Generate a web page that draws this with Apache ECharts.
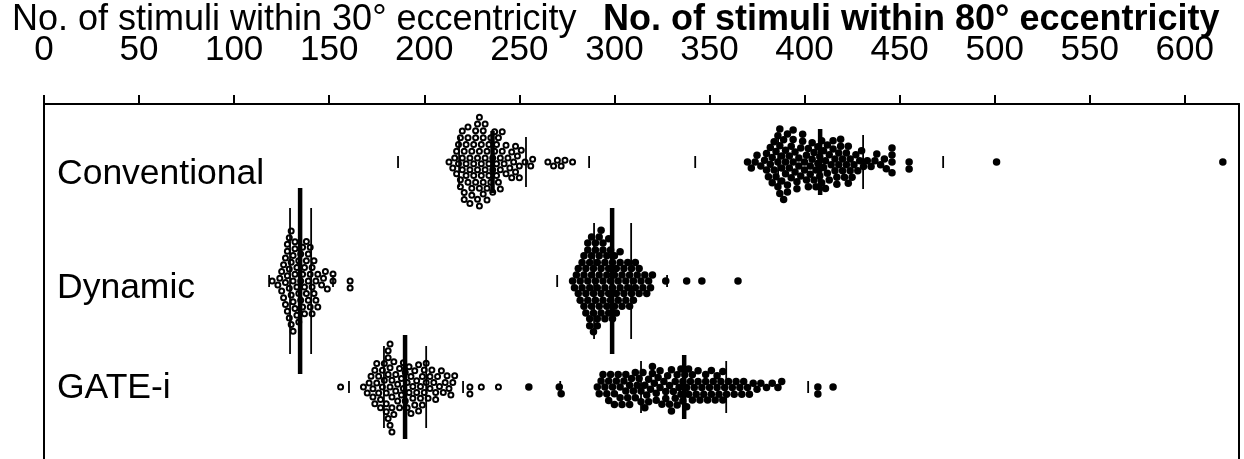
<!DOCTYPE html>
<html>
<head>
<meta charset="utf-8">
<script src="https://cdn.jsdelivr.net/npm/echarts@6/dist/echarts.min.js"></script>
<style>
  html, body { margin: 0; padding: 0; background: #fff; }
  #chart { width: 1244px; height: 459px; }
</style>
</head>
<body>
<div id="chart"></div>
<script>
// tick labels on the top axis
const xTicks = [0, 50, 100, 150, 200, 250, 300, 350, 400, 450, 500, 550, 600];
const rows = ['Conventional', 'Dynamic', 'GATE-i'];

// each group: distinct values + how many subjects sit on each value
const conv30Values = [213, 215, 216, 217, 218, 219, 220, 221, 222, 223, 224, 225, 226, 227, 228, 229, 230, 231, 232, 233, 234, 235, 236, 237, 238, 239, 240, 241, 242, 243, 244, 245, 246, 247, 248, 249, 250, 251, 253, 256, 257, 265, 268, 270, 272, 274, 278];
const conv30Counts = [1, 1, 1, 2, 2, 3, 3, 3, 3, 3, 3, 3, 3, 3, 4, 4, 3, 4, 3, 3, 3, 2, 3, 2, 3, 2, 3, 2, 1, 2, 1, 1, 2, 1, 2, 1, 2, 1, 1, 1, 1, 1, 1, 1, 1, 1, 1];

const conv80Values = [370, 372, 374, 375, 377, 379, 380, 381, 382, 383, 384, 385, 386, 387, 388, 389, 390, 391, 392, 393, 394, 395, 396, 397, 398, 399, 400, 401, 402, 403, 404, 405, 406, 407, 408, 409, 410, 411, 412, 413, 414, 415, 416, 417, 418, 419, 420, 421, 422, 423, 424, 425, 426, 427, 428, 429, 430, 431, 433, 435, 437, 438, 440, 442, 443, 446, 455, 501, 620];
const conv80Counts = [1, 1, 1, 1, 1, 1, 2, 1, 2, 2, 2, 2, 3, 3, 3, 2, 3, 3, 2, 2, 3, 2, 2, 2, 2, 2, 2, 2, 2, 2, 2, 2, 2, 2, 2, 2, 2, 2, 2, 2, 1, 2, 2, 2, 2, 2, 2, 1, 2, 2, 2, 1, 1, 1, 1, 1, 1, 1, 1, 1, 1, 1, 1, 1, 1, 4, 2, 1, 1];

const dyn30Values = [120, 123, 124, 125, 126, 127, 128, 129, 130, 131, 132, 133, 134, 135, 136, 137, 138, 139, 140, 141, 142, 143, 144, 146, 147, 148, 149, 152, 161];
const dyn30Counts = [1, 1, 1, 2, 2, 3, 4, 4, 4, 4, 4, 3, 3, 3, 3, 3, 3, 3, 3, 3, 2, 2, 2, 1, 1, 1, 1, 2, 2];

const dyn80Values = [278, 279, 280, 281, 282, 283, 284, 285, 286, 287, 288, 289, 290, 291, 292, 293, 294, 295, 296, 297, 298, 299, 300, 301, 302, 303, 304, 305, 306, 307, 308, 309, 310, 311, 312, 313, 314, 315, 316, 317, 318, 319, 320, 327, 338, 346, 365];
const dyn80Counts = [1, 1, 1, 2, 2, 2, 3, 3, 4, 4, 4, 4, 4, 4, 4, 4, 4, 3, 3, 4, 3, 3, 3, 3, 2, 3, 2, 2, 2, 2, 2, 2, 2, 2, 1, 2, 1, 1, 1, 1, 1, 1, 1, 1, 1, 1, 1];

const gate30Values = [156, 168, 170, 171, 172, 173, 174, 175, 176, 177, 178, 179, 180, 181, 182, 183, 184, 185, 186, 187, 188, 189, 190, 191, 192, 193, 194, 195, 196, 197, 198, 199, 200, 201, 202, 203, 204, 205, 206, 207, 208, 209, 210, 211, 212, 213, 214, 215, 216, 224, 230, 239];
const gate30Counts = [1, 1, 1, 1, 1, 2, 2, 2, 2, 2, 2, 2, 3, 4, 4, 4, 2, 2, 2, 2, 2, 2, 2, 2, 2, 2, 2, 2, 2, 2, 2, 2, 2, 2, 1, 2, 1, 1, 2, 1, 1, 1, 1, 1, 1, 1, 1, 1, 1, 2, 1, 1];

const gate80Values = [255, 271, 272, 291, 292, 293, 294, 295, 296, 297, 298, 299, 300, 301, 302, 303, 304, 305, 306, 307, 308, 309, 310, 311, 312, 313, 314, 315, 316, 317, 318, 319, 320, 321, 322, 323, 324, 325, 326, 327, 328, 329, 330, 331, 332, 333, 334, 335, 336, 337, 338, 339, 340, 341, 342, 343, 344, 345, 346, 347, 348, 349, 350, 351, 352, 353, 354, 355, 356, 357, 358, 359, 360, 362, 363, 364, 366, 367, 368, 370, 371, 373, 375, 377, 380, 383, 386, 388, 407, 415];
const gate80Counts = [1, 1, 1, 1, 1, 1, 1, 1, 1, 2, 1, 1, 2, 1, 1, 2, 1, 1, 2, 1, 2, 1, 1, 2, 1, 1, 2, 1, 2, 1, 2, 1, 2, 1, 2, 1, 2, 1, 1, 2, 1, 2, 2, 1, 2, 2, 1, 2, 2, 1, 2, 2, 1, 2, 1, 1, 2, 1, 1, 1, 2, 1, 1, 2, 1, 1, 2, 1, 1, 2, 1, 1, 1, 1, 1, 1, 1, 1, 1, 1, 1, 1, 1, 1, 1, 1, 1, 1, 2, 1];

// summary lines per group (order: conv30, conv80, dyn30, dyn80, gate30, gate80)
const groupRow   = [0, 0, 1, 1, 2, 2];
const meanValues = [235.9, 408.2, 134.7, 298.8, 189.9, 336.7];
const sdLow      = [218.3, 386.1, 129.4, 289.3, 178.8, 314.0];
const sdHigh     = [253.5, 430.8, 140.5, 308.8, 201.0, 358.8];
const rangeLow   = [186.2, 342.5, 118.4, 269.9, 160.4, 271.5];
const rangeHigh  = [286.7, 472.9, 152.0, 327.7, 220.4, 401.9];

// ---- layout / style ----
const gridLeft = 44, gridTop = 104, gridW = 1195, gridH = 355;
const xMax = 628.5;
const rowCenter = [58, 177, 283];          // px below the top axis
const meanHalf = [31, 33, 93, 73, 52, 32];  // half length of mean bars
const sdHalf   = [25, 27, 73, 58, 41, 26];
const rangeHalf = 6;
const dotD = 7;
const FONT = 'Liberation Sans, Arial, sans-serif';

function swarm(values, counts, row) {
  const ppu = gridW / xMax;
  const pts = [];
  values.forEach((v, i) => { for (let k = 0; k < counts[i]; k++) pts.push(v); });
  pts.sort((a, b) => a - b);
  const placed = [];
  const out = [];
  pts.forEach(v => {
    const x = v * ppu;
    const near = placed.filter(p => Math.abs(p.x - x) < dotD);
    const cands = [0];
    near.forEach(p => {
      const dy = Math.sqrt(dotD * dotD - (p.x - x) * (p.x - x));
      cands.push(p.y + dy, p.y - dy);
    });
    cands.sort((a, b) => Math.abs(a) - Math.abs(b));
    const y = cands.find(c => near.every(p => (p.x - x) ** 2 + (p.y - c) ** 2 >= dotD * dotD - 0.01));
    placed.push({ x: x, y: y });
    out.push([v, rowCenter[row] + y]);
  });
  return out;
}

const lineData = [];
meanValues.forEach((m, i) => {
  const y = rowCenter[groupRow[i]];
  lineData.push([m, y, meanHalf[i], 4.5]);
  lineData.push([sdLow[i], y, sdHalf[i], 1.8]);
  lineData.push([sdHigh[i], y, sdHalf[i], 1.8]);
  lineData.push([rangeLow[i], y, rangeHalf, 1.8]);
  lineData.push([rangeHigh[i], y, rangeHalf, 1.8]);
});

const openDot = { color: '#fff', borderColor: '#000', borderWidth: 2, opacity: 1 };
const fullDot = { color: '#000', opacity: 1 };

const edgeAxis = pos => ({
  type: 'value', min: 0, max: gridH, inverse: true, position: pos,
  axisLine: { show: true, onZero: false, lineStyle: { color: '#000', width: 2 } },
  axisTick: { show: false }, axisLabel: { show: false }, splitLine: { show: false }
});

const chart = echarts.init(document.getElementById('chart'));
chart.setOption({
  animation: false,
  backgroundColor: '#fff',
  title: [
    { text: 'No. of stimuli within 30° eccentricity', left: 12, top: 2, padding: 0,
      textStyle: { fontFamily: FONT, fontSize: 36, fontWeight: 'normal', color: '#000' } },
    { text: 'No. of stimuli within 80° eccentricity', left: 603, top: 2, padding: 0,
      textStyle: { fontFamily: FONT, fontSize: 36, fontWeight: 'bold', color: '#000' } }
  ],
  grid: { left: gridLeft, top: gridTop, width: gridW, height: gridH, containLabel: false, outerBoundsMode: 'none' },
  xAxis: {
    type: 'value', position: 'top', min: 0, max: xMax, interval: 50,
    axisLine: { onZero: false, lineStyle: { color: '#000', width: 2 } },
    axisTick: { length: 9, customValues: xTicks, lineStyle: { color: '#000', width: 2 } },
    axisLabel: { customValues: xTicks, margin: 36, fontSize: 35, color: '#000', fontFamily: FONT,
      formatter: v => (v % 50 === 0 ? String(v) : '') },
    splitLine: { show: false }
  },
  yAxis: [edgeAxis('left'), edgeAxis('right')],
  graphic: rows.map((r, i) => ({
    type: 'text', left: 57, top: [156, 270, 370][i],
    style: { text: r, font: '35.5px ' + FONT, fill: '#000' }
  })),
  series: [
    { type: 'scatter', symbolSize: 5, itemStyle: openDot, data: swarm(conv30Values, conv30Counts, 0) },
    { type: 'scatter', symbolSize: 7.5, itemStyle: fullDot, data: swarm(conv80Values, conv80Counts, 0) },
    { type: 'scatter', symbolSize: 5, itemStyle: openDot, data: swarm(dyn30Values, dyn30Counts, 1) },
    { type: 'scatter', symbolSize: 7.5, itemStyle: fullDot, data: swarm(dyn80Values, dyn80Counts, 1) },
    { type: 'scatter', symbolSize: 5, itemStyle: openDot, data: swarm(gate30Values, gate30Counts, 2) },
    { type: 'scatter', symbolSize: 7.5, itemStyle: fullDot, data: swarm(gate80Values, gate80Counts, 2) },
    {
      type: 'custom', z: 5, data: lineData,
      renderItem: (params, api) => {
        const x = api.value(0), y = api.value(1), h = api.value(2);
        const p1 = api.coord([x, y - h]);
        const p2 = api.coord([x, y + h]);
        return { type: 'line', shape: { x1: p1[0], y1: p1[1], x2: p2[0], y2: p2[1] },
          style: { stroke: '#000', lineWidth: api.value(3) } };
      }
    }
  ]
});
</script>
</body>
</html>
